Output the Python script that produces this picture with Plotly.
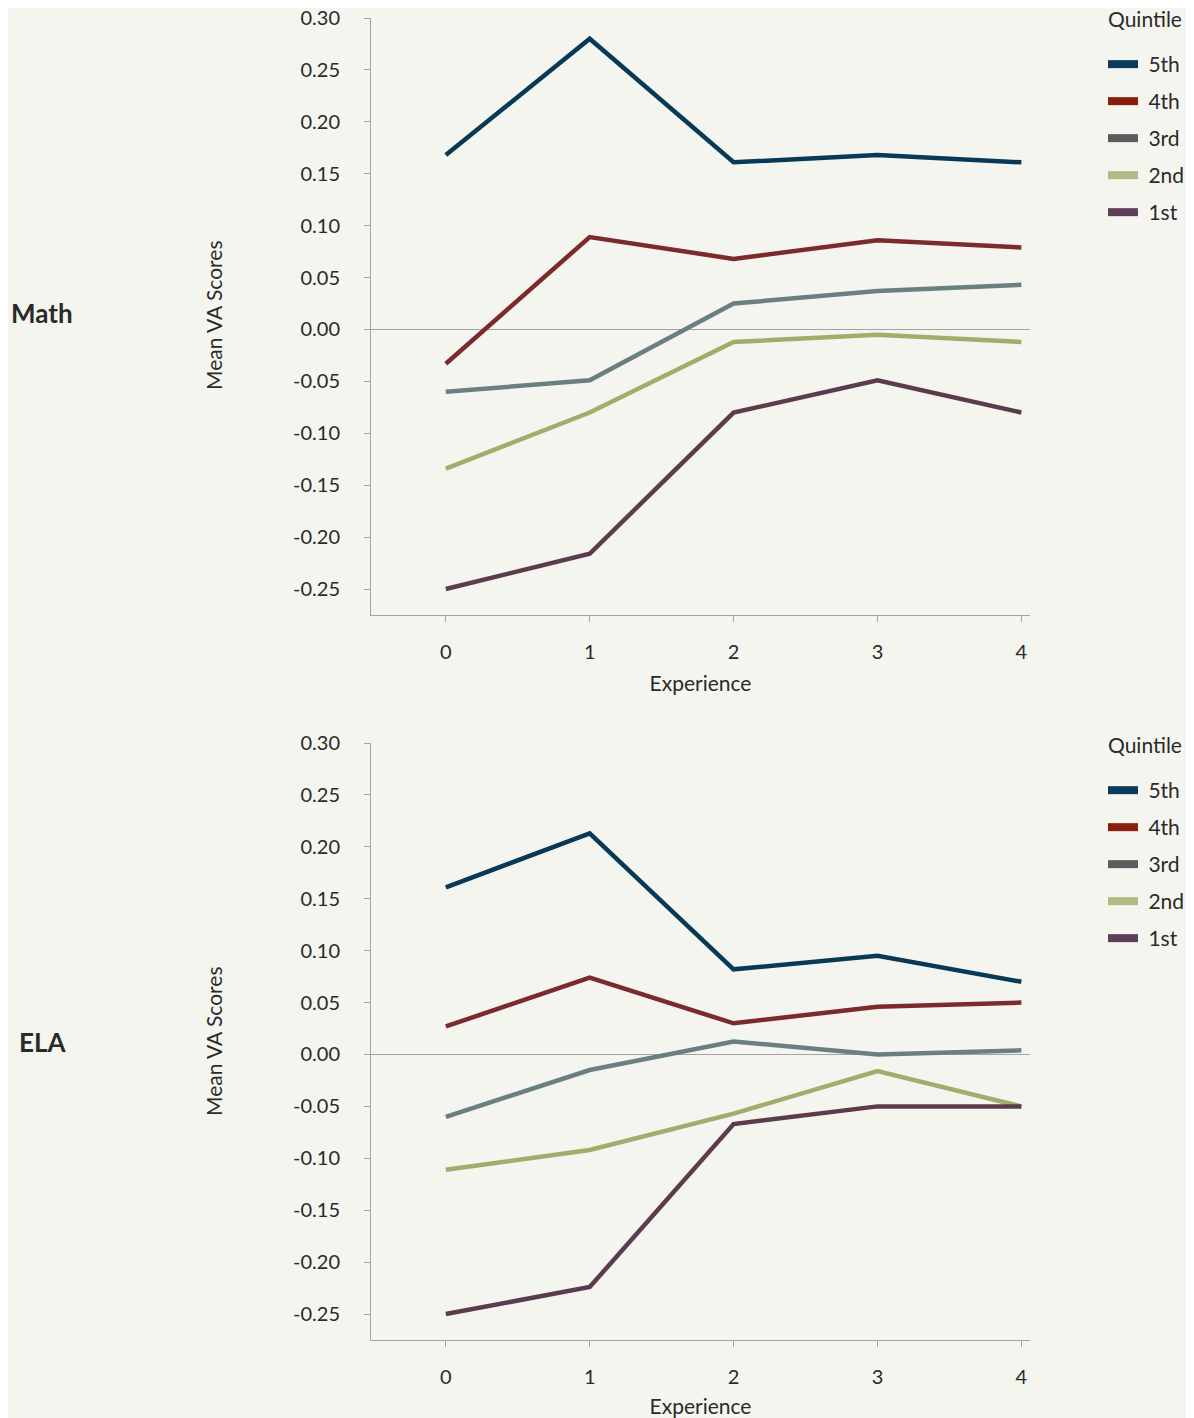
import plotly.graph_objects as go

experience = [0, 1, 2, 3, 4]
quintiles = ["5th", "4th", "3rd", "2nd", "1st"]
line_colors = ["#083a58", "#7b2b2b", "#6a8080", "#a3ac6b", "#5b3c4d"]
legend_colors = ["#0b3a5a", "#8b1d0c", "#5a5c5e", "#b4b981", "#603f58"]

math_5th = [0.168, 0.280, 0.161, 0.168, 0.161]
math_4th = [-0.033, 0.089, 0.068, 0.086, 0.079]
math_3rd = [-0.060, -0.049, 0.025, 0.037, 0.043]
math_2nd = [-0.134, -0.080, -0.012, -0.005, -0.012]
math_1st = [-0.250, -0.216, -0.080, -0.049, -0.080]

ela_5th = [0.161, 0.213, 0.082, 0.095, 0.070]
ela_4th = [0.027, 0.074, 0.030, 0.046, 0.050]
ela_3rd = [-0.060, -0.015, 0.0125, 0.000, 0.004]
ela_2nd = [-0.111, -0.092, -0.057, -0.016, -0.050]
ela_1st = [-0.250, -0.224, -0.067, -0.050, -0.050]

math_series = [math_5th, math_4th, math_3rd, math_2nd, math_1st]
ela_series = [ela_5th, ela_4th, ela_3rd, ela_2nd, ela_1st]

y_ticks = [0.30, 0.25, 0.20, 0.15, 0.10, 0.05, 0.00, -0.05, -0.10, -0.15, -0.20, -0.25]
y_ticktext = ["%.2f" % v for v in y_ticks]

# page offset (body margin) compensation
OFF = 8
W, H = 1194 - OFF, 1418 - OFF
BG = "#f5f5f0"
FONT = "Lato, 'Open Sans', sans-serif"
TXT = "#2a2a2a"
AX = "#a3a3a3"
NBSP = "\u00a0"


def px(x):
    return (x - OFF) / W


def py(y):
    return 1 - (y - OFF) / H


fig = go.Figure()
for panel, series, xa, ya, leg in [("m", math_series, "x", "y", "legend"),
                                   ("e", ela_series, "x2", "y2", "legend2")]:
    for i, q in enumerate(quintiles):
        fig.add_trace(go.Scatter(x=experience, y=series[i], mode="lines", name=q,
                                 line=dict(color=line_colors[i], width=4.5),
                                 xaxis=xa, yaxis=ya, showlegend=False,
                                 legendgroup=panel + q))
    # legend entries (legend swatches use their own colours in the reference)
    for i, q in enumerate(quintiles):
        fig.add_trace(go.Scatter(x=[None], y=[None], mode="lines", name=NBSP + q,
                                 line=dict(color=legend_colors[i], width=8),
                                 xaxis=xa, yaxis=ya, legend=leg,
                                 legendgroup=panel + q, hoverinfo="skip"))

xd = [px(371), px(1030)]

axis_common = dict(showgrid=False, showline=True, linecolor=AX, linewidth=1,
                   ticks="outside", ticklen=6, tickcolor=AX, automargin=False,
                   ticklabeloverflow="allow",
                   tickfont=dict(family=FONT, size=20, color=TXT))

xaxis_kw = dict(axis_common, range=[-0.52, 4.06], tickvals=experience, zeroline=False,
                ticklabelstandoff=13,
                title=dict(text="Experience", font=dict(family=FONT, size=21, color=TXT),
                           standoff=14))
yaxis_kw = dict(axis_common, range=[-0.275, 0.30], tickvals=y_ticks, ticktext=y_ticktext,
                zeroline=True, zerolinecolor=AX, zerolinewidth=1, ticklabelstandoff=20)

legend_common = dict(font=dict(family=FONT, size=21, color=TXT), bgcolor="rgba(0,0,0,0)",
                     traceorder="grouped", tracegroupgap=6.7, xanchor="left", yanchor="top",
                     itemwidth=30)

annotations = []
for label, yc, yt in [("Math", 313, 316), ("ELA", 1042, 1042)]:
    annotations.append(dict(text="<b>%s</b>" % label, x=px(42), y=py(yc),
                            xanchor="center", yanchor="middle", xref="paper", yref="paper",
                            showarrow=False, font=dict(family=FONT, size=26, color=TXT)))
    annotations.append(dict(text="Mean VA Scores", x=px(213), y=py(yt), xanchor="center",
                            yanchor="middle", xref="paper", yref="paper", showarrow=False,
                            textangle=-90, font=dict(family=FONT, size=21, color=TXT)))
for yq in [19, 744]:
    annotations.append(dict(text="Quintile", x=px(1106), y=py(yq), xanchor="left",
                            yanchor="middle", xref="paper", yref="paper", showarrow=False,
                            font=dict(family=FONT, size=21, color=TXT)))

fig.update_layout(
    width=W, height=H,
    paper_bgcolor=BG, plot_bgcolor=BG,
    margin=dict(l=0, r=0, t=0, b=0, autoexpand=False),
    xaxis=dict(xaxis_kw, domain=xd, anchor="y"),
    yaxis=dict(yaxis_kw, domain=[py(615), py(18)], anchor="x"),
    xaxis2=dict(xaxis_kw, domain=xd, anchor="y2"),
    yaxis2=dict(yaxis_kw, domain=[py(1340), py(743)], anchor="x2"),
    legend=dict(legend_common, x=px(1103), y=py(44)),
    legend2=dict(legend_common, x=px(1103), y=py(770)),
    annotations=annotations,
    showlegend=True,
)

fig.write_html("out.html")
